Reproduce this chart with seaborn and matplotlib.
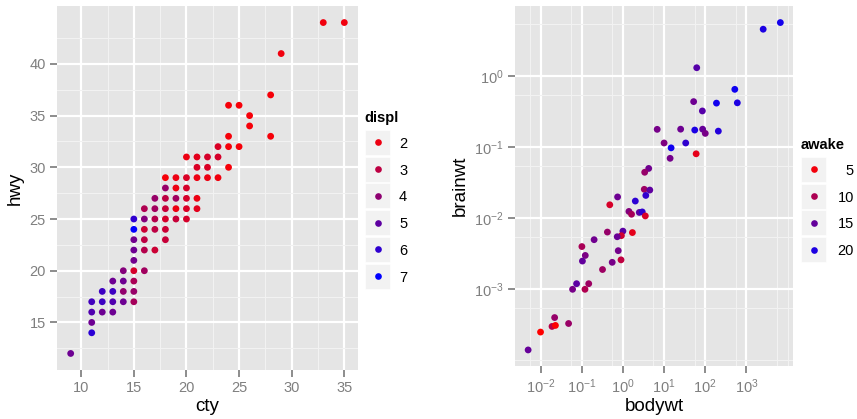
import matplotlib
matplotlib.use('Agg')
import matplotlib.pyplot as plt
from matplotlib.colors import LinearSegmentedColormap, Normalize
from matplotlib.patches import Rectangle
from matplotlib.ticker import FixedLocator, LogFormatterSciNotation, NullFormatter
import numpy as np
import pandas as pd
import seaborn as sns

# left panel: mpg, cty vs hwy coloured by displ
cty = [9, 11, 11, 11, 11, 12, 12, 12, 13, 13, 13, 13, 14, 14, 14, 14,
       15, 15, 15, 15, 15, 15, 15, 15, 15, 16, 16, 16, 16, 16, 16,
       17, 17, 17, 17, 17, 18, 18, 18, 18, 18, 18, 18, 19, 19, 19, 19, 19,
       20, 20, 20, 20, 20, 20, 21, 21, 21, 21, 21, 22, 22, 22, 23, 23, 23,
       24, 24, 24, 24, 25, 25, 26, 26, 28, 28, 29, 33, 35]
hwy = [12, 14, 15, 16, 17, 16, 17, 18, 16, 17, 18, 19, 17, 18, 19, 20,
       17, 18, 19, 20, 21, 22, 23, 24, 25, 20, 22, 23, 24, 25, 26,
       22, 24, 25, 26, 27, 23, 24, 25, 26, 27, 28, 29, 25, 26, 27, 28, 29,
       25, 26, 27, 28, 29, 31, 26, 27, 29, 30, 31, 29, 30, 31, 29, 31, 32,
       30, 32, 33, 36, 32, 36, 34, 35, 33, 37, 41, 44, 44]
displ = [4.7, 6.1, 4.7, 5.3, 5.6, 4.7, 5.7, 5.7, 4.7, 5.3, 5.7, 4.7, 4.7, 3.9, 4.7, 4.2,
         3.5, 3.8, 3.4, 2.5, 4.6, 4.7, 4.6, 7.0, 6.0, 3.6, 3.2, 3.0, 2.7, 4.2, 3.3,
         2.7, 3.0, 3.2, 3.6, 3.8, 2.8, 2.7, 2.5, 2.8, 3.0, 3.8, 1.8, 2.8, 2.0, 3.6, 2.0, 2.0,
         2.5, 2.4, 2.5, 2.5, 2.4, 2.0, 2.2, 2.0, 2.0, 2.4, 2.2, 2.0, 2.4, 2.5, 1.9, 2.5, 2.4,
         1.8, 1.8, 1.8, 1.8, 1.8, 1.8, 1.8, 1.8, 1.8, 1.8, 1.9, 1.9, 1.9]
displ_breaks = [2, 3, 4, 5, 6, 7]
displ_range = (1.6, 7.0)

# right panel: msleep, bodywt vs brainwt coloured by awake
bodywt = [6654, 2547, 62, 521, 600, 187, 52.2, 85, 207.5, 55.5, 86.25, 100, 25.235,
          6.8, 10, 14.8, 33.5, 14, 60, 4.23, 3.38, 3.3, 4.5, 3.6, 0.743, 2.0, 0.48,
          1.4, 1.62, 2.5, 2.95, 3.5, 1.0, 1.7, 0.42, 0.92, 0.728, 0.2, 0.101, 0.77,
          0.122, 0.104, 0.9, 0.55, 0.32, 0.075, 0.148, 0.06, 0.12, 0.022, 0.048,
          0.019, 0.023, 0.01, 0.005]
brainwt = [5.712, 4.603, 1.32, 0.655, 0.423, 0.419, 0.44, 0.325, 0.169, 0.175, 0.18,
           0.157, 0.18, 0.179, 0.115, 0.0982, 0.115, 0.07, 0.081, 0.0504, 0.0445,
           0.0256, 0.025, 0.021, 0.02, 0.0175, 0.0155, 0.0125, 0.0114, 0.0121, 0.0123,
           0.0108, 0.0066, 0.0063, 0.0064, 0.0057, 0.0055, 0.005, 0.004, 0.0035, 0.003,
           0.0025, 0.0026, 0.0024, 0.0019, 0.0012, 0.0012, 0.001, 0.001, 0.0004,
           0.00033, 0.0003, 0.00031, 0.00025, 0.00014]
awake = [20.7, 20.1, 16.0, 21.1, 20.0, 20.9, 14.3, 16.0, 19.6, 20.2, 14.9, 13.6, 14.4,
         13.8, 13.1, 21.0, 18.7, 13.9, 5.9, 14.2, 11.5, 11.1, 15.4, 18.6, 14.4, 19.0,
         7.0, 12.9, 10.4, 15.6, 18.7, 6.9, 15.7, 6.0, 11.5, 7.6, 14.6, 14.2, 10.2, 13.9,
         13.4, 15.1, 8.6, 13.7, 11.0, 15.6, 11.0, 13.7, 9.7, 11.5, 11.3, 9.1, 4.3, 4.1,
         14.9]
awake_breaks = [5, 10, 15, 20]
awake_range = (4.1, 22.1)

mpg = pd.DataFrame({'cty': cty, 'hwy': hwy, 'displ': displ})
msleep = pd.DataFrame({'bodywt': bodywt, 'brainwt': brainwt, 'awake': awake})

cmap = LinearSegmentedColormap.from_list('redblue', ['#FF0000', '#0000FF'])

W, H = 857, 419
plt.rcParams['font.family'] = ['Liberation Sans', 'DejaVu Sans']
plt.rcParams['mathtext.fontset'] = 'custom'
plt.rcParams['mathtext.rm'] = 'Liberation Sans'
plt.rcParams['mathtext.it'] = 'Liberation Sans'
fig = plt.figure(figsize=(W / 100, H / 100), dpi=100)


def px_axes(x0, y0, x1, y1):
    return fig.add_axes([x0 / W, 1 - y1 / H, (x1 - x0) / W, (y1 - y0) / H])


def gg_style(ax):
    ax.set_facecolor('#E5E5E5')
    for s in ax.spines.values():
        s.set_visible(False)
    ax.grid(which='major', color='white', linewidth=1.6)
    ax.grid(which='minor', color='#F2F2F2', linewidth=0.8)
    ax.set_axisbelow(True)
    ax.tick_params(which='major', length=5, width=1.1, color='#6E6E6E',
                   labelcolor='#7F7F7F', labelsize=10.5, pad=3)
    ax.tick_params(which='minor', length=0)


def gg_legend(title, breaks, norm, x_title, y_title, x_key, y_key, x_lab, ha):
    fig.text(x_title / W, 1 - y_title / H, title, fontsize=10.5, fontweight='bold',
             ha='left', va='baseline')
    for i, b in enumerate(breaks):
        top = y_key + i * 26.7
        fig.patches.append(Rectangle((x_key / W, 1 - (top + 25) / H), 25 / W, 25 / H,
                                     transform=fig.transFigure, facecolor='#F2F2F2',
                                     edgecolor='white', linewidth=0.5))
        fig.lines.append(plt.Line2D([(x_key + 12.5) / W], [1 - (top + 12.5) / H],
                                    transform=fig.transFigure, marker='o', markersize=4.8,
                                    markeredgewidth=0, color=cmap(norm(b))))
        fig.text(x_lab / W, 1 - (top + 12.5) / H, str(b), fontsize=10.5, ha=ha,
                 va='center_baseline')


# left panel
ax1 = px_axes(57, 6, 358, 370)
gg_style(ax1)
norm1 = Normalize(*displ_range)
sns.scatterplot(data=mpg, x='cty', y='hwy', hue='displ', palette=cmap, hue_norm=norm1,
                s=24, linewidth=0, legend=False, ax=ax1)
ax1.set_xlim(7.7, 36.3)
ax1.set_ylim(10.4, 45.6)
ax1.xaxis.set_major_locator(FixedLocator([10, 15, 20, 25, 30, 35]))
ax1.xaxis.set_minor_locator(FixedLocator([12.5, 17.5, 22.5, 27.5, 32.5]))
ax1.yaxis.set_major_locator(FixedLocator([15, 20, 25, 30, 35, 40]))
ax1.yaxis.set_minor_locator(FixedLocator([12.5, 17.5, 22.5, 27.5, 32.5, 37.5, 42.5]))
ax1.set_xlabel('cty', fontsize=13.5, labelpad=2)
ax1.set_ylabel('hwy', fontsize=13.5, labelpad=4)
gg_legend('displ', displ_breaks, norm1, 364, 122, 365, 130, 399, 'left')

# right panel
ax2 = px_axes(515, 6, 793, 366)
gg_style(ax2)
norm2 = Normalize(*awake_range)
sns.scatterplot(data=msleep, x='bodywt', y='brainwt', hue='awake', palette=cmap,
                hue_norm=norm2, s=24, linewidth=0, legend=False, ax=ax2)
ax2.set_xscale('log')
ax2.set_yscale('log')
ax2.set_xlim(10 ** -2.62, 10 ** 4.13)
ax2.set_ylim(10 ** -4.08, 10 ** 0.99)
ax2.xaxis.set_major_locator(FixedLocator([10.0 ** k for k in range(-2, 4)]))
ax2.xaxis.set_minor_locator(FixedLocator([5.5 * 10.0 ** k for k in range(-3, 4)] + [1e4]))
ax2.yaxis.set_major_locator(FixedLocator([10.0 ** k for k in range(-3, 1)]))
ax2.yaxis.set_minor_locator(FixedLocator([5.5 * 10.0 ** k for k in range(-4, 1)] + [1e-4]))
ax2.xaxis.set_major_formatter(LogFormatterSciNotation())
ax2.yaxis.set_major_formatter(LogFormatterSciNotation())
ax2.xaxis.set_minor_formatter(NullFormatter())
ax2.yaxis.set_minor_formatter(NullFormatter())
ax2.set_xlabel('bodywt', fontsize=13.5, labelpad=2)
ax2.set_ylabel('brainwt', fontsize=13.5, labelpad=4)
gg_legend('awake', awake_breaks, norm2, 801, 149, 801, 157, 854, 'right')

fig.savefig('out.png', dpi=100, facecolor='white')
